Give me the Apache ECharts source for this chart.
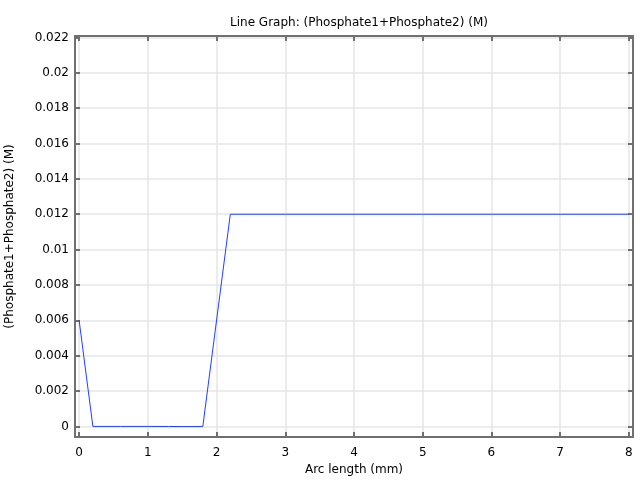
<!DOCTYPE html>
<html>
<head>
<meta charset="utf-8">
<script src="https://cdn.jsdelivr.net/npm/echarts@6/dist/echarts.min.js"></script>
<style>html,body{margin:0;padding:0;background:#fff;}#c{width:640px;height:480px;}</style>
</head>
<body>
<div id="c"></div>
<script>
var arcLength = [0, 0.2, 0.6, 1.0, 1.3, 1.5, 1.7, 1.8, 2.2, 3, 4, 5, 6, 7, 8];
var phosphate = [0.006, 0, 0, 0, -0.000005, -0.00001, -0.00001, 0, 0.012, 0.012, 0.012, 0.012, 0.012, 0.012, 0.012];
var xTicks = [0, 1, 2, 3, 4, 5, 6, 7, 8];
var yTicks = [0, 0.002, 0.004, 0.006, 0.008, 0.01, 0.012, 0.014, 0.016, 0.018, 0.02, 0.022];

var font = 'DejaVu Sans';
var axisCol = '#707070';
var gridCol = '#e6e6e6';

var pts = arcLength.map(function (x, i) { return [x, phosphate[i]]; });

function xAx(pos, show) {
  return {
    type: 'value', position: pos, min: -0.06, max: 8.06,
    name: show ? 'Arc length (mm)' : '', nameLocation: 'middle', nameGap: 25,
    nameTextStyle: { fontFamily: font, fontSize: 12, color: '#000' },
    axisLine: { show: true, onZero: false, lineStyle: { color: axisCol, width: 2 } },
    axisTick: { show: true, inside: true, length: 5, customValues: xTicks, lineStyle: { color: axisCol, width: 2 } },
    axisLabel: { show: show, customValues: xTicks, margin: 10, fontFamily: font, fontSize: 12, color: '#000' },
    splitLine: { show: show, lineStyle: { color: gridCol, width: 1.5 } }
  };
}
function yAx(pos, show) {
  return {
    type: 'value', position: pos, min: -0.0006, max: 0.02208,
    name: show ? '(Phosphate1+Phosphate2) (M)' : '', nameLocation: 'middle', nameGap: 59,
    nameTextStyle: { fontFamily: font, fontSize: 12, color: '#000' },
    axisLine: { show: true, onZero: false, lineStyle: { color: axisCol, width: 2 } },
    axisTick: { show: true, inside: true, length: 5, customValues: yTicks, lineStyle: { color: axisCol, width: 2 } },
    axisLabel: { show: show, customValues: yTicks, margin: 6, fontFamily: font, fontSize: 12, color: '#000' },
    splitLine: { show: show, lineStyle: { color: gridCol, width: 1.5 } }
  };
}

var chart = echarts.init(document.getElementById('c'), null, { renderer: 'canvas' });
chart.setOption({
  animation: false,
  backgroundColor: '#fff',
  title: {
    text: 'Line Graph: (Phosphate1+Phosphate2) (M)',
    left: 354, top: 12, textAlign: 'center',
    textStyle: { fontFamily: font, fontSize: 12, fontWeight: 'normal', color: '#000' }
  },
  grid: { left: 75, right: 7, top: 36, bottom: 43, containLabel: false, outerBoundsMode: 'none' },
  xAxis: [xAx('bottom', true), xAx('top', false)],
  yAxis: [yAx('left', true), yAx('right', false)],
  series: [{
    type: 'line', data: pts, xAxisIndex: 0, yAxisIndex: 0,
    showSymbol: false, symbol: 'none',
    lineStyle: { color: '#2040ff', width: 1 }
  }]
});
</script>
</body>
</html>
